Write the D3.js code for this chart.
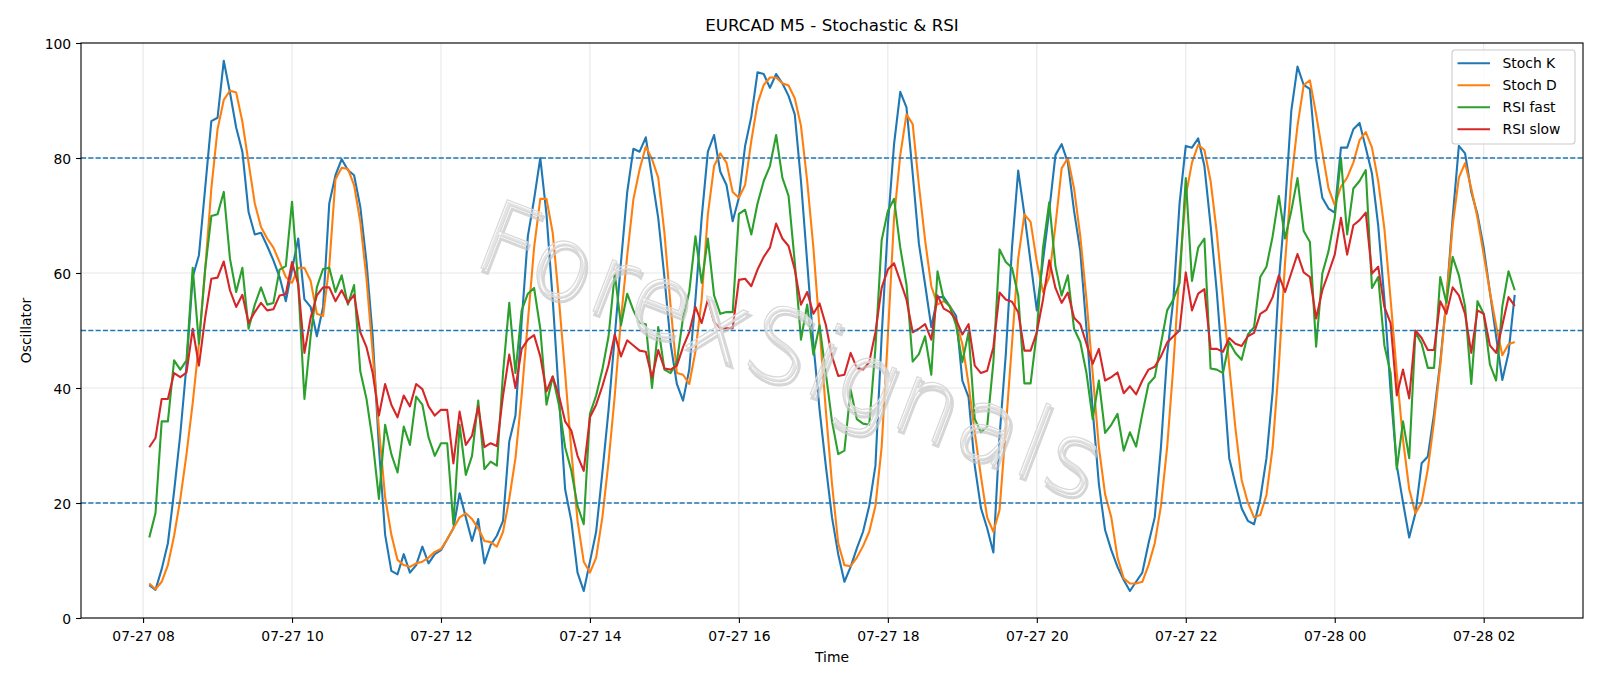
<!DOCTYPE html>
<html>
<head>
<meta charset="utf-8">
<script src="https://cdn.jsdelivr.net/npm/d3@7"></script>
<style>
    body { margin: 0; background: #fff; }
    text { font-family: "DejaVu Sans", sans-serif; fill: #000; }
</style>
</head>
<body>
<div class="plot"></div>
<script>
// time axis: one bar every 5 minutes starting here
var startTime = "2025-07-27T08:05:00";
var stepMinutes = 5;

var stochK = [
    5.7, 4.9, 8.5, 13.0, 22, 32, 44, 59.3, 63.1, 74.7,
    86.4, 87, 96.9, 91.4, 85.3, 81.1, 70.6, 66.7, 67, 64.7,
    62.2, 59.3, 55.1, 60.6, 66, 55.4, 54.1, 49, 54.1, 72.1,
    77, 79.8, 77.9, 77, 71.5, 61.9, 49, 29.7, 14.5, 8.2,
    7.6, 11.1, 7.9, 9.2, 12.4, 9.5, 11.1, 11.8, 13.7, 15.6,
    21.7, 17.5, 13.4, 17.2, 9.5, 12.7, 14.3, 16.9, 30.7, 35.2,
    51.6, 66.4, 72.8, 80, 70.2, 55.4, 38.7, 22.4, 16.9, 7.9,
    4.7, 9.8, 15.0, 25.3, 36.2, 49, 61.9, 74, 81.6, 81.1,
    83.6, 76.6, 69.6, 59.3, 47.7, 40.7, 37.8, 43.2, 55.4, 69.6,
    81.1, 84, 77.6, 75.3, 69, 73.1, 82.1, 87.2, 94.9, 94.6,
    92.2, 94.6, 93, 90.8, 87.6, 76, 61.9, 47.7, 36.2, 26.5,
    17.5, 11.1, 6.3, 8.9, 12.1, 15, 19.5, 26.5, 49, 68.3,
    82.4, 91.5, 88.8, 77.3, 65.1, 58, 50.6, 55.8, 55.8, 54.2,
    52.5, 41.3, 38.4, 26.5, 19.1, 15.6, 11.4, 31.7, 45.8, 64.4,
    77.8, 70.2, 61.9, 53.5, 62.2, 70.8, 80.5, 82.4, 79.2, 70.8,
    63.8, 50.3, 36.2, 23.3, 15.3, 11.8, 8.9, 6.6, 4.7, 6.3,
    7.9, 13, 17.5, 29.7, 45.8, 55.4, 72.1, 82.1, 81.8, 83.4,
    78.6, 68.3, 56.7, 42.6, 27.8, 23.3, 19.1, 16.9, 16.3, 20.7,
    27.8, 39.4, 58.6, 71.5, 88.2, 95.9, 92.7, 92, 79.8, 73.1,
    71.2, 70.5, 81.8, 81.8, 85, 86.1, 81.8, 77.3, 68.3, 55.4,
    39.4, 26.5, 20.1, 14, 18.2, 26.9, 28.1, 35.5, 44.5, 55.4,
    69.6, 82.1, 80.8, 74.1, 70.2, 64.4, 56.7, 49, 41.4, 46.1,
    56.2
];

var stochD = [
    6, 5, 6.3, 9.2, 14.3, 20.7, 28.5, 37.4, 47.7, 60.5,
    74.7, 85, 90.1, 91.7, 91.4, 86.3, 79.2, 72.1, 68, 66,
    64.4, 61.9, 59.3, 58.3, 60.9, 60.9, 58.6, 52.9, 52.5, 61.2,
    76.3, 78.3, 78.1, 75.3, 68.9, 59, 46, 33, 21, 14.5,
    10.1, 9.2, 8.9, 9.5, 9.8, 10.5, 11.5, 12, 13.7, 15.6,
    17.5, 18.2, 17.2, 15.6, 13.4, 13.2, 12.4, 15, 20.7, 27.8,
    38.7, 51.6, 64.4, 72.9, 72.9, 67, 55.4, 42.6, 29.1, 16.9,
    9.8, 7.9, 10.5, 17.5, 27.2, 38.7, 52, 63, 72.8, 78,
    82, 79.8, 76.6, 67, 54.2, 42.6, 42.3, 40.7, 46.4, 55.4,
    70.2, 78.6, 80.8, 79.2, 74.1, 73.1, 75.3, 83, 89.5, 92.7,
    94, 94, 93, 92.6, 90.4, 85.6, 76, 64.4, 50.3, 36.2,
    23.3, 13, 9.2, 9, 10.5, 12.5, 15, 19.5, 29.7, 49,
    69.6, 80.5, 87.6, 85.9, 75.3, 65.7, 57.7, 54.5, 55.1, 54.3,
    51.3, 47.7, 40.7, 32.3, 24.6, 17.5, 15, 18.8, 33, 47.7,
    62.5, 70.2, 68.9, 61.9, 56.7, 59.3, 68.3, 78.2, 80, 74.7,
    66.4, 55.4, 42.6, 29.7, 21.5, 17.5, 10.5, 6.9, 6, 6,
    6.3, 9.2, 13, 19.5, 29.7, 43.9, 60.6, 73.4, 79.2, 82.3,
    81.4, 76, 67, 55.4, 43.9, 33, 24, 20.1, 17.5, 17.9,
    21.4, 29.7, 43.9, 61.9, 76, 85.6, 92.7, 93.5, 87.6, 81.1,
    74.7, 71.8, 75, 76.6, 79.2, 83.1, 84.5, 81.8, 76, 67.7,
    55.4, 42.6, 31, 22.4, 18.2, 20.1, 25.9, 34.2, 43.9, 55.4,
    68.3, 76.6, 79.1, 74.7, 69.6, 63.2, 56.7, 50.9, 45.7, 47.6,
    48
];

var rsiFast = [
    14, 18.2, 34.2, 34.2, 44.8, 43.2, 44.8, 60.9, 47.7, 60.6,
    69.9, 70.2, 74.1, 62.5, 56.7, 60.9, 50.3, 54.5, 57.5, 54.5,
    54.8, 60.6, 61.2, 72.4, 58, 38.1, 49, 57.5, 60.7, 60.9,
    56.7, 59.6, 54.5, 57.9, 42.9, 38.1, 30.7, 20.7, 33.6, 28.5,
    25.3, 33.3, 30.1, 38.5, 37.1, 31.4, 28.2, 30.4, 30.4, 16.3,
    33.6, 24.9, 28.2, 37.8, 25.9, 27.2, 26.5, 42.6, 54.8, 42.6,
    53.5, 56.4, 57.4, 50.3, 37.1, 42, 37.1, 29.7, 25.6, 19.5,
    16.3, 35.5, 38.7, 43.2, 49, 59.9, 50.9, 56.4, 53.5, 51.3,
    51.1, 40, 50.6, 43.2, 42.6, 44.5, 52.2, 56.7, 66.4, 58.3,
    66, 56.1, 52.9, 53.2, 53.2, 70.3, 71, 66.7, 72.1, 76,
    78.6, 84, 76.6, 73.4, 61.9, 48.4, 54.5, 45.8, 50.9, 42.6,
    34.2, 28.5, 29.1, 39.7, 34.6, 33.8, 33.6, 47, 65.7, 70.8,
    72.9, 64.4, 58, 44.6, 45.9, 49, 42.3, 60.3, 55.4, 54.1,
    50.9, 44.5, 49.7, 34.6, 32.3, 33.3, 44.5, 64.1, 61.9, 60.9,
    56.1, 40.8, 40.8, 49.7, 64.4, 72.3, 61.2, 56.1, 59.6, 50.3,
    48, 42.6, 34.6, 41.3, 32.2, 33.6, 35.5, 29.1, 32.3, 29.8,
    35.5, 40.7, 41.9, 47.7, 53.5, 55.4, 58.3, 76.5, 58.6, 64.4,
    66, 43.4, 43.2, 42.6, 48, 46.1, 44.9, 49.3, 50.6, 59.3,
    61.1, 66.4, 73.4, 66, 70.8, 76.5, 67.3, 65.4, 47.2, 59.9,
    63.8, 69.6, 80, 66.7, 74.7, 76, 77.9, 57.4, 59.3, 47.4,
    42.6, 25.9, 34.2, 27.8, 49.7, 47.7, 43.5, 43.5, 59.3, 54.8,
    62.8, 59.6, 54.2, 40.7, 55.1, 52.9, 44.1, 41.3, 54.2, 60.3,
    57
];

var rsiSlow = [
    29.7, 31.3, 38.1, 38.1, 42.6, 41.9, 42.7, 50.3, 43.9, 52.2,
    59, 59.2, 62, 57, 54.1, 56.2, 51.3, 53.2, 54.8, 53.5,
    53.7, 56.1, 56.3, 61.9, 58, 46.1, 52.2, 56.1, 57.5, 57.5,
    55.1, 57, 54.8, 56.2, 49.7, 47.1, 42.6, 35.2, 40.7, 37.1,
    34.9, 38.7, 36.8, 40.7, 39.8, 36.8, 35.2, 36.2, 36.2, 26.9,
    35.9, 30.1, 31.7, 36.8, 29.7, 30.4, 29.9, 38.7, 45.8, 40,
    46.8, 48.4, 49.2, 45.5, 39.4, 42, 38.7, 34.2, 32.6, 28.2,
    25.6, 34.9, 37.1, 40.3, 44, 49.3, 45.5, 48.3, 47.4, 46.5,
    46.3, 41.8, 46.6, 43.4, 43.2, 43.9, 47.1, 49.7, 54.1, 51.3,
    55.4, 51.5, 50.4, 50.4, 50.4, 58.8, 59, 57.7, 60.6, 62.8,
    64.4, 68.6, 66, 64.7, 60.6, 54.5, 56.7, 52.9, 54.7, 51,
    45.5, 42.1, 42.3, 46.1, 43.5, 43.2, 44.5, 49.7, 57.4, 60.6,
    61.7, 58.6, 55.4, 49.7, 50.3, 51.1, 48.4, 56.1, 53.8, 53.2,
    51.9, 49.3, 51.1, 43.9, 42.6, 43, 47.1, 56.6, 55.4, 55,
    53.2, 46.5, 46.5, 49.7, 55.4, 62.2, 57.4, 54.8, 56.6, 52.2,
    51.1, 47.7, 44.2, 46.8, 41.3, 41.9, 42.7, 39.1, 40.3, 38.9,
    41.3, 43.2, 43.7, 45.5, 47.9, 49, 50, 60.1, 53.5, 56.4,
    57.2, 46.8, 46.8, 46.3, 48.7, 47.7, 47.3, 49, 49.6, 52.9,
    53.6, 55.8, 59.6, 56.7, 60, 63.3, 60.1, 59.3, 52.1, 57,
    60, 63.2, 69.6, 63.2, 68.3, 69.2, 70.5, 59.9, 61.1, 54.1,
    51.3, 38.7, 43.2, 38.2, 50, 48.7, 46.6, 46.6, 55.1, 52.9,
    57.5, 56.1, 52.9, 46.1, 53.5, 52.9, 47.4, 46.1, 50.9, 55.8,
    54.3
];

var seriesNames = ["Stoch K", "Stoch D", "RSI fast", "RSI slow"];
var seriesColors = ["#1f77b4", "#ff7f0e", "#2ca02c", "#d62728"];
var yTicks = [0, 20, 40, 60, 80, 100];
var levels = [20, 50, 80];

var svgWidth = 1600;
var svgHeight = 686;

var margin = {
    top: 43,
    right: 17,
    bottom: 68,
    left: 81
};

var height = svgHeight - margin.top - margin.bottom;
var width = svgWidth - margin.left - margin.right;

var svg = d3.select(".plot")
    .append("svg")
    .attr("width", svgWidth)
    .attr("height", svgHeight)
    .style("display", "block")
    .style("background", "#fff");

var chartGroup = svg.append("g")
    .attr("transform", `translate(${margin.left}, ${margin.top})`);

// build the time stamps
var parseTime = d3.timeParse("%Y-%m-%dT%H:%M:%S");
var t0 = parseTime(startTime);
var times = stochK.map((d, i) => d3.timeMinute.offset(t0, i * stepMinutes));

var series = [stochK, stochD, rsiFast, rsiSlow].map(function (vals, k) {
    return {
        name: seriesNames[k],
        color: seriesColors[k],
        values: vals.map((v, i) => ({ t: times[i], v: v }))
    };
});

// scales (5% padding on x like matplotlib)
var tMin = times[0];
var tMax = times[times.length - 1];
var pad = (tMax - tMin) * 0.05;

var xTimeScale = d3.scaleTime()
    .domain([new Date(+tMin - pad), new Date(+tMax + pad)])
    .range([0, width]);

var yLinearScale = d3.scaleLinear()
    .domain([0, 100])
    .range([height, 0]);

var xTicks = xTimeScale.ticks(d3.timeHour.every(2));

// grid
chartGroup.append("g")
    .selectAll("line")
    .data(xTicks)
    .enter()
    .append("line")
    .attr("x1", d => xTimeScale(d))
    .attr("x2", d => xTimeScale(d))
    .attr("y1", 0)
    .attr("y2", height)
    .attr("stroke", "#b0b0b0")
    .attr("stroke-opacity", 0.3)
    .attr("stroke-width", 1.1);

chartGroup.append("g")
    .selectAll("line")
    .data(yTicks)
    .enter()
    .append("line")
    .attr("x1", 0)
    .attr("x2", width)
    .attr("y1", d => yLinearScale(d))
    .attr("y2", d => yLinearScale(d))
    .attr("stroke", "#b0b0b0")
    .attr("stroke-opacity", 0.3)
    .attr("stroke-width", 1.1);

// lines
var lineGen = d3.line()
    .x(d => xTimeScale(d.t))
    .y(d => yLinearScale(d.v));

chartGroup.append("g")
    .selectAll("path")
    .data(series)
    .enter()
    .append("path")
    .attr("d", d => lineGen(d.values))
    .attr("fill", "none")
    .attr("stroke", d => d.color)
    .attr("stroke-width", 2.1)
    .attr("stroke-linejoin", "round");

// 20 / 50 / 80 levels
chartGroup.append("g")
    .selectAll("line")
    .data(levels)
    .enter()
    .append("line")
    .attr("x1", 0)
    .attr("x2", width)
    .attr("y1", d => yLinearScale(d))
    .attr("y2", d => yLinearScale(d))
    .attr("stroke", "#1f77b4")
    .attr("stroke-width", 1.4)
    .attr("stroke-dasharray", "5.1,2.2");

// axes
var xAxis = d3.axisBottom(xTimeScale)
    .tickValues(xTicks)
    .tickFormat(d3.timeFormat("%m-%d %H"))
    .tickSize(4.9)
    .tickPadding(4.9);

var yAxis = d3.axisLeft(yLinearScale)
    .tickValues(yTicks)
    .tickSize(4.9)
    .tickPadding(4.9);

var xg = chartGroup.append("g")
    .attr("transform", `translate(0, ${height})`)
    .call(xAxis);

var yg = chartGroup.append("g")
    .call(yAxis);

[xg, yg].forEach(function (g) {
    g.select(".domain").remove();
    g.selectAll(".tick line").attr("stroke", "#000").attr("stroke-width", 1.1);
    g.selectAll(".tick text")
        .attr("font-size", "13.9px")
        .attr("font-family", "DejaVu Sans")
        .attr("fill", "#000");
});
xg.selectAll(".tick text").attr("dy", 0).attr("y", 22.7);
yg.selectAll(".tick text").attr("dy", "0.36em");

// spines
chartGroup.append("rect")
    .attr("width", width)
    .attr("height", height)
    .attr("fill", "none")
    .attr("stroke", "#000")
    .attr("stroke-width", 1.1);

// titles
svg.append("text")
    .attr("x", margin.left + width / 2)
    .attr("y", 31)
    .attr("text-anchor", "middle")
    .attr("font-size", "16.7px")
    .text("EURCAD M5 - Stochastic & RSI");

svg.append("text")
    .attr("x", margin.left + width / 2)
    .attr("y", 662)
    .attr("text-anchor", "middle")
    .attr("font-size", "13.9px")
    .text("Time");

svg.append("text")
    .attr("transform", `translate(31, ${margin.top + height / 2}) rotate(-90)`)
    .attr("text-anchor", "middle")
    .attr("font-size", "13.9px")
    .text("Oscillator");

// watermark: hollow grey letters with a soft shadow
var wm = svg.append("g")
    .attr("transform", "translate(790, 350) rotate(21)")
    .attr("pointer-events", "none");

wm.append("text")
    .attr("x", 3)
    .attr("y", 37)
    .attr("text-anchor", "middle")
    .attr("font-size", "100px")
    .attr("font-weight", 200)
    .attr("textLength", 660)
    .attr("lengthAdjust", "spacing")
    .style("fill", "none")
    .style("stroke", "#c4c4c4")
    .style("stroke-width", 3)
    .style("stroke-opacity", 0.7)
    .text("ForexSignals");

wm.append("text")
    .attr("x", 0)
    .attr("y", 34)
    .attr("text-anchor", "middle")
    .attr("font-size", "100px")
    .attr("font-weight", 200)
    .attr("textLength", 660)
    .attr("lengthAdjust", "spacing")
    .style("fill", "#fff")
    .style("fill-opacity", 0.35)
    .style("stroke", "#d8d8d8")
    .style("stroke-width", 1.2)
    .text("ForexSignals");

// legend
var legend = svg.append("g")
    .attr("transform", "translate(1452, 50)");

legend.append("rect")
    .attr("width", 123)
    .attr("height", 94)
    .attr("rx", 3)
    .attr("fill", "#fff")
    .attr("fill-opacity", 0.8)
    .attr("stroke", "#cccccc")
    .attr("stroke-width", 1.1);

var rows = legend.selectAll(".row")
    .data(series)
    .enter()
    .append("g")
    .attr("transform", (d, i) => `translate(0, ${13.3 + i * 22})`);

rows.append("line")
    .attr("x1", 5.5)
    .attr("x2", 38)
    .attr("stroke", d => d.color)
    .attr("stroke-width", 2.1);

rows.append("text")
    .attr("x", 50.5)
    .attr("dy", "0.36em")
    .attr("font-size", "13.9px")
    .text(d => d.name);
</script>
</body>
</html>
